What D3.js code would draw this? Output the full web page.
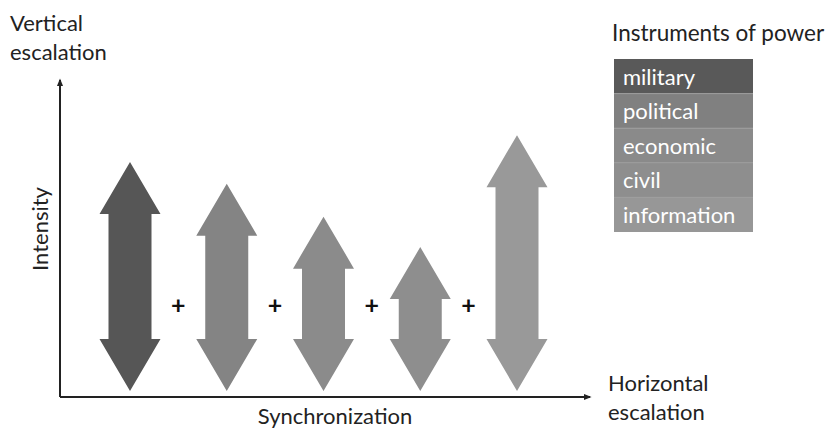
<!DOCTYPE html>
<html>
<head>
<meta charset="utf-8">
<script src="https://cdn.jsdelivr.net/npm/d3@7"></script>
<style>
  body { margin: 0; background: #fff; }
  svg { display: block; font-family: Lato, "Open Sans", sans-serif; }
</style>
</head>
<body>
<svg width="830" height="430"></svg>
<script>
// instruments of power, left to right
const instruments = ["military", "political", "economic", "civil", "information"];
// top and bottom of each double arrow, in intensity units (0-100 on the axis)
const arrowTop = [74.1, 67.3, 56.9, 47.3, 82.6];
const arrowBottom = [1.9, 1.9, 1.9, 1.9, 1.9];
const arrowColors = ["#565656", "#848484", "#8b8b8b", "#8e8e8e", "#999999"];
const legendColors = ["#595959", "#808080", "#8a8a8a", "#8e8e8e", "#979797"];

const svg = d3.select("svg");

const x = d3.scalePoint()
    .domain(instruments)
    .range([130, 517]);

const y = d3.scaleLinear()
    .domain([0, 100])
    .range([397, 80]);

// arrowhead marker for the axes
svg.append("defs").append("marker")
    .attr("id", "tip")
    .attr("viewBox", "0 0 10 10")
    .attr("refX", 8).attr("refY", 5)
    .attr("markerWidth", 4).attr("markerHeight", 4)
    .attr("orient", "auto")
  .append("path")
    .attr("d", "M0,1 L10,5 L0,9 Z")
    .attr("fill", "#222");

// axes
svg.append("path")
    .attr("d", `M60,${y(0)} L60,${y(100)}`)
    .attr("stroke", "#222").attr("stroke-width", 2)
    .attr("marker-end", "url(#tip)");
svg.append("path")
    .attr("d", `M60,${y(0)} L590,${y(0)}`)
    .attr("stroke", "#222").attr("stroke-width", 2)
    .attr("marker-end", "url(#tip)");

// double arrows
const headW = 30.5, shaftW = 21.5, headH = 52;
function arrowPath(cx, top, bottom) {
    return [
        [cx, top],
        [cx + headW, top + headH],
        [cx + shaftW, top + headH],
        [cx + shaftW, bottom - headH],
        [cx + headW, bottom - headH],
        [cx, bottom],
        [cx - headW, bottom - headH],
        [cx - shaftW, bottom - headH],
        [cx - shaftW, top + headH],
        [cx - headW, top + headH]
    ].map(p => p.join(",")).join(" ");
}

svg.selectAll("polygon.arrow")
    .data(instruments)
    .enter().append("polygon")
    .attr("class", "arrow")
    .attr("points", (d, i) => arrowPath(x(d), y(arrowTop[i]), y(arrowBottom[i])))
    .attr("fill", (d, i) => arrowColors[i]);

// plus signs between arrows
svg.selectAll("text.plus")
    .data(instruments.slice(1))
    .enter().append("text")
    .attr("class", "plus")
    .attr("x", (d, i) => (x(instruments[i]) + x(d)) / 2)
    .attr("y", 314)
    .attr("text-anchor", "middle")
    .attr("font-size", 25)
    .attr("font-weight", "bold")
    .attr("fill", "#111")
    .text("+");

// axis labels
const label = svg.append("g").attr("fill", "#222").attr("font-size", 22);
label.append("text").attr("x", 10).attr("y", 31).text("Vertical");
label.append("text").attr("x", 10).attr("y", 60).text("escalation");
label.append("text").attr("x", 608).attr("y", 391).text("Horizontal");
label.append("text").attr("x", 608).attr("y", 420).text("escalation");
label.append("text").attr("x", 335).attr("y", 424).attr("text-anchor", "middle").text("Synchronization");
label.append("text")
    .attr("transform", "translate(48,229) rotate(-90)")
    .attr("text-anchor", "middle")
    .text("Intensity");

// legend
svg.append("text")
    .attr("x", 612).attr("y", 41)
    .attr("font-size", 22.5).attr("fill", "#222")
    .text("Instruments of power");

const rowH = 34.6;
const legend = svg.append("g").attr("transform", "translate(614,59)");
legend.selectAll("rect")
    .data(instruments)
    .enter().append("rect")
    .attr("x", 0)
    .attr("y", (d, i) => i * rowH)
    .attr("width", 139)
    .attr("height", rowH)
    .attr("fill", (d, i) => legendColors[i]);
legend.selectAll("line")
    .data(instruments.slice(1))
    .enter().append("line")
    .attr("x1", 0).attr("x2", 139)
    .attr("y1", (d, i) => (i + 1) * rowH)
    .attr("y2", (d, i) => (i + 1) * rowH)
    .attr("stroke", "#9c9c9c")
    .attr("stroke-width", 1);
legend.selectAll("text")
    .data(instruments)
    .enter().append("text")
    .attr("x", 9)
    .attr("y", (d, i) => i * rowH + 25.5)
    .attr("font-size", 22)
    .attr("fill", "#fff")
    .text(d => d);
</script>
</body>
</html>
